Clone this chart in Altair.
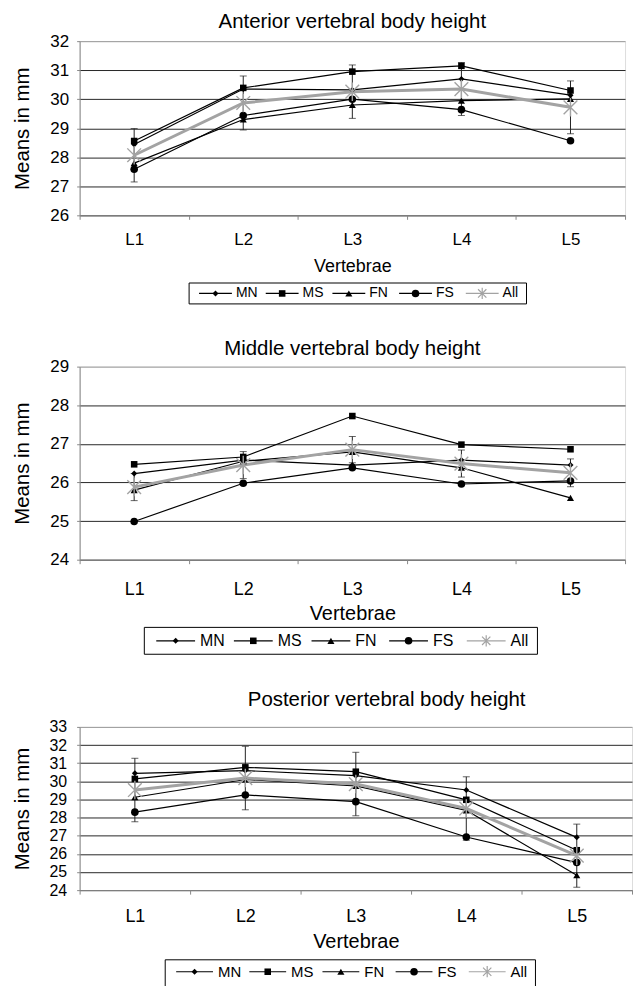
import altair as alt
import pandas as pd

FONT = "Liberation Sans, Arial, Helvetica, sans-serif"
GRAY = "#a3a3a3"
STAR = "M-1,-1L1,1M-1,1L1,-1M0,-1.35L0,1.35"

vertebrae = ["L1", "L2", "L3", "L4", "L5"]
series = ["MN", "MS", "FN", "FS", "All"]

# Anterior vertebral body height
ant_MN = [28.44, 30.35, 30.32, 30.70, 30.14]
ant_MS = [28.56, 30.39, 30.95, 31.15, 30.30]
ant_FN = [27.80, 29.30, 29.80, 29.95, 30.01]
ant_FS = [27.59, 29.44, 30.00, 29.64, 28.57]
ant_All = [28.07, 29.87, 30.26, 30.35, 29.72]
ant_err = [0.92, 0.93, 0.92, 0.91, 0.91]

# Middle vertebral body height
mid_MN = [26.23, 26.58, 26.45, 26.58, 26.45]
mid_MS = [26.47, 26.66, 27.72, 26.98, 26.86]
mid_FN = [25.80, 26.55, 26.79, 26.38, 25.60]
mid_FS = [24.99, 25.98, 26.38, 25.96, 26.04]
mid_All = [25.88, 26.45, 26.85, 26.49, 26.25]
mid_err = [0.35, 0.35, 0.34, 0.35, 0.36]

# Posterior vertebral body height
pos_MN = [30.44, 30.59, 30.31, 29.52, 26.91]
pos_MS = [30.13, 30.77, 30.53, 28.98, 26.20]
pos_FN = [29.12, 30.10, 29.75, 28.40, 24.82]
pos_FS = [28.30, 29.25, 28.88, 26.93, 25.52]
pos_All = [29.52, 30.18, 29.85, 28.50, 25.90]
pos_err = [1.75, 1.75, 1.75, 1.75, 1.74]

shape_scale = alt.Scale(domain=series[:4], range=["diamond", "square", "triangle-up", "circle"])
size_scale = alt.Scale(domain=series[:4], range=[36, 58, 48, 56])
color_scale = alt.Scale(domain=series, range=["black", "black", "black", "black", GRAY])
width_scale = alt.Scale(domain=series, range=[1.2, 1.2, 1.2, 1.2, 3])


def panel(title, vals, err, ymin, ymax, w, h, c):
    rows = []
    for s, arr in zip(series, vals):
        for v, val in zip(vertebrae, arr):
            rows.append({"vertebra": v, "series": s, "value": val})
    df = pd.DataFrame(rows)
    edf = pd.DataFrame({"vertebra": vertebrae, "mean": vals[4], "err": err})

    xaxis = alt.Axis(title="Vertebrae", labelAngle=0, tickBand="extent", tickSize=4,
                     labelFontSize=c["xl"], titleFontSize=c["xt"], labelPadding=c["xlp"],
                     titlePadding=c["xtp"], grid=False, titleFontWeight="normal",
                     labelFont=FONT, titleFont=FONT)
    x = alt.X("vertebra:N", scale=alt.Scale(domain=vertebrae, paddingInner=0, paddingOuter=0),
              axis=xaxis)

    grid_color = {"condition": {"test": f"datum.value >= {ymax}", "value": "#9a9a9a"},
                  "value": "#262626"}

    def yenc(field):
        return alt.Y(field, type="quantitative",
                     scale=alt.Scale(domain=[ymin, ymax], nice=False, zero=False),
                     axis=alt.Axis(title="Means in mm", values=list(range(ymin, ymax + 1)),
                                   tickSize=3, labelFontSize=c["yl"], titleFontSize=20.5,
                                   labelPadding=c["ylp"], titlePadding=c["ytp"],
                                   titleFontWeight="normal", labelFont=FONT, titleFont=FONT,
                                   grid=True, gridColor=grid_color, gridWidth=1))

    base = alt.Chart(df)
    lines_black = base.transform_filter(alt.datum.series != "All").mark_line(
        color="black", strokeWidth=1.2).encode(x=x, y=yenc("value"), detail="series:N")
    line_all = base.transform_filter(alt.datum.series == "All").mark_line(
        color=GRAY, strokeWidth=3).encode(x=x, y=yenc("value"))
    ebase = alt.Chart(edf).transform_calculate(lo="datum.mean - datum.err", hi="datum.mean + datum.err")
    err_rule = ebase.mark_rule(color="#222", strokeWidth=1).encode(x=x, y=yenc("lo"), y2="hi:Q")
    err_lo = ebase.mark_tick(color="#222", size=7, thickness=1).encode(x=x, y=yenc("lo"))
    err_hi = ebase.mark_tick(color="#222", size=7, thickness=1).encode(x=x, y=yenc("hi"))
    pts = base.transform_filter(alt.datum.series != "All").mark_point(
        filled=True, color="black", opacity=1).encode(
        x=x, y=yenc("value"),
        shape=alt.Shape("series:N", scale=shape_scale, legend=None),
        size=alt.Size("series:N", scale=size_scale, legend=None))
    star = base.transform_filter(alt.datum.series == "All").mark_point(
        shape=STAR, filled=False, color=GRAY, strokeWidth=1.4, size=190, opacity=1).encode(
        x=x, y=yenc("value"))

    main = alt.layer(lines_black, line_all, err_rule, err_lo, err_hi, pts, star)

    # legend drawn as marks below the plot
    ldf = pd.DataFrame({"series": series, "lidx": list(range(5))})
    L = c["L"]
    lx = alt.X("lidx:Q", scale=alt.Scale(domain=[0, 4], range=[c["x0"], c["x0"] + 4 * c["pitch"]]),
               axis=None)
    ly = alt.value(c["ly"])
    lb = alt.Chart(ldf)
    l_rule = lb.mark_rule(x2Offset=L).encode(
        x=lx, x2=alt.X2("lidx"), y=ly,
        color=alt.Color("series:N", scale=color_scale, legend=None),
        strokeWidth=alt.StrokeWidth("series:N", scale=width_scale, legend=None))
    l_pts = lb.transform_filter(alt.datum.series != "All").mark_point(
        filled=True, color="black", opacity=1, xOffset=L / 2).encode(
        x=lx, y=ly,
        shape=alt.Shape("series:N", scale=shape_scale, legend=None),
        size=alt.Size("series:N", scale=size_scale, legend=None))
    l_star = lb.transform_filter(alt.datum.series == "All").mark_point(
        shape=STAR, filled=False, color=GRAY, strokeWidth=1.2, size=70, opacity=1,
        xOffset=L / 2).encode(x=lx, y=ly)
    l_text = lb.mark_text(align="left", baseline="middle", xOffset=L + c["gap"],
                          fontSize=c["fs"], font=FONT, color="black").encode(
        x=lx, y=ly, text="series:N")
    l_box = alt.Chart(pd.DataFrame({"k": [0]})).mark_rect(
        fill="white", fillOpacity=0, stroke="black", strokeWidth=1).encode(
        x=alt.value(c["bx"][0]), x2=alt.value(c["bx"][1]),
        y=alt.value(c["by"][0]), y2=alt.value(c["by"][1]))
    legend = alt.layer(l_box, l_rule, l_pts, l_star, l_text)

    return alt.layer(main, legend).resolve_scale(x="independent").properties(
        width=w, height=h,
        title=alt.TitleParams(text=title, fontSize=20.5, fontWeight="normal", font=FONT,
                              anchor="middle", frame="group", offset=c["toff"], dx=c["dx"],
                              color="black"))


p1 = panel("Anterior vertebral body height",
           [ant_MN, ant_MS, ant_FN, ant_FS, ant_All], ant_err, 26, 32, 548, 175,
           dict(xl=17, xt=18, xlp=12, xtp=10, yl=17, ylp=8, ytp=17, L=33, x0=120, pitch=67,
                gap=4, fs=14, ly=253.5, bx=(110, 449), by=(243, 264), toff=0, dx=0))
p2 = panel("Middle vertebral body height",
           [mid_MN, mid_MS, mid_FN, mid_FS, mid_All], mid_err, 24, 29, 548, 194,
           dict(xl=18, xt=20, xlp=17, xtp=5, yl=17, ylp=8, ytp=17, L=39, x0=77, pitch=78,
                gap=5, fs=16, ly=275.5, bx=(65, 460), by=(262, 289), toff=-2, dx=0))
p3 = panel("Posterior vertebral body height",
           [pos_MN, pos_MS, pos_FN, pos_FS, pos_All], pos_err, 24, 33, 555, 164,
           dict(xl=18, xt=20, xlp=14, xtp=6, yl=16, ylp=10, ytp=17, L=37, x0=97, pitch=73.5,
                gap=5, fs=15, ly=246, bx=(86, 458), by=(234, 263), toff=9, dx=31))

chart = alt.vconcat(p1, p2, p3, spacing=34).properties(
    padding={"left": 11, "top": 9, "right": 0, "bottom": 0}
).configure_view(stroke="#9a9a9a", strokeWidth=1).configure_axis(
    labelFont=FONT, titleFont=FONT, labelColor="black", titleColor="black",
    domainColor="black", tickColor="black", titleFontWeight="normal", domainWidth=1
).configure(background="white")

chart.save("out.html", embed_options={"renderer": "svg", "actions": False})
